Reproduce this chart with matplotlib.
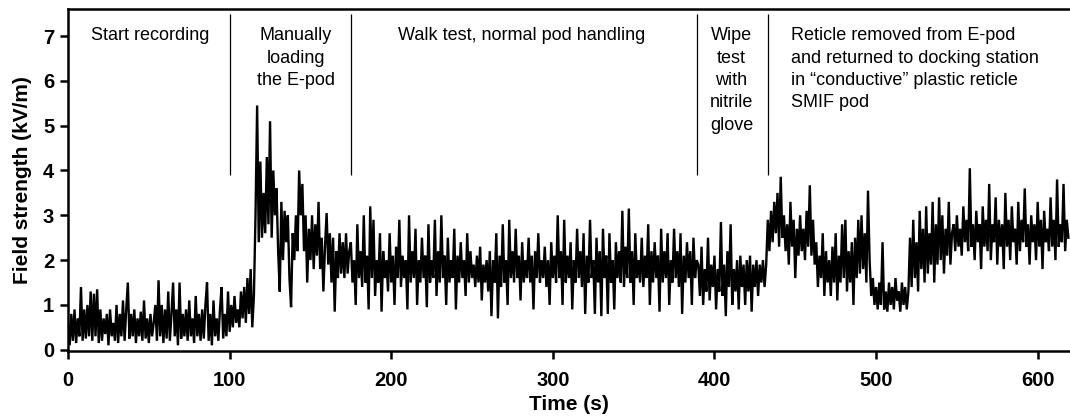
import numpy as np
import matplotlib.pyplot as plt

plt.rcParams['font.family'] = ['Liberation Sans', 'DejaVu Sans']

# Field strength readings (kV/m), one per second
start_t = 0
start_vals = [0.6, 0.1, 0.8, 0.2, 0.9, 0.15, 0.7, 0.3, 1.4, 0.2,
              0.9, 0.25, 1.0, 0.3, 1.3, 0.2, 1.25, 0.3, 1.35, 0.15,
              0.9, 0.2, 0.7, 0.35, 0.8, 0.1, 0.9, 0.3, 0.6, 0.2,
              1.0, 0.15, 0.8, 0.3, 1.1, 0.2, 0.9, 1.5, 0.25, 0.8,
              0.3, 0.9, 0.15, 0.7, 0.3, 0.85, 0.2, 1.1, 0.25, 0.7,
              0.15, 0.8, 0.3, 0.6, 1.0, 0.2, 1.55, 0.3, 1.0, 0.15,
              0.9, 0.25, 1.3, 0.2, 0.8, 1.5, 0.3, 0.9, 0.1, 1.5,
              0.25, 0.8, 0.3, 0.9, 0.2, 1.1, 0.3, 0.7, 0.15, 1.2,
              0.3, 0.8, 0.2, 0.9, 0.25, 1.0, 1.5, 0.2, 0.8, 0.1,
              1.1, 0.3, 0.7, 0.2, 0.9, 1.4, 0.25, 0.8, 0.3, 1.3,
              0.4, 1.0, 0.5, 1.2, 0.6, 0.9, 0.5, 1.3, 0.7, 1.4,
              0.6, 1.6, 0.8, 1.8, 0.5, 1.2]

load_t = 116
load_vals = [3.0, 5.45, 2.4, 4.2, 2.5, 3.5, 2.6, 4.3, 2.8, 5.1,
             2.5, 4.0, 3.0, 3.6, 2.2, 1.3, 3.3, 2.0, 3.1, 2.4,
             3.0, 1.6, 0.95, 2.6, 2.0, 3.0, 2.2, 4.0, 3.0, 3.7,
             2.2, 3.0, 1.5, 2.7, 2.0, 3.0, 1.8, 2.8, 2.1, 3.3,
             1.8, 2.5, 1.3, 2.3, 3.05, 1.9, 2.6, 1.5, 2.5, 0.85,
             2.2, 1.6, 2.6, 1.7, 2.4, 1.6, 2.6, 1.7, 2.2]

walk_t = 175
walk_vals = [2.4, 1.5, 2.0, 1.0, 2.8, 1.6, 2.2, 1.4, 3.0, 1.5,
             2.1, 0.9, 3.2, 1.6, 2.9, 1.2, 2.0, 1.5, 2.6, 0.85,
             2.2, 1.6, 2.0, 1.3, 2.6, 1.5, 2.1, 1.0, 2.3, 1.6,
             2.9, 1.4, 2.1, 1.6, 2.0, 0.9, 3.0, 1.5, 2.2, 1.6,
             2.7, 1.0, 2.0, 1.5, 2.5, 1.6, 2.1, 0.95, 2.8, 1.5,
             2.0, 1.6, 2.9, 1.2, 2.2, 1.5, 3.0, 1.6, 2.1, 1.0,
             2.5, 1.5, 2.0, 1.6, 2.7, 0.9, 2.1, 1.5, 2.4, 1.6,
             2.0, 1.2, 2.6, 1.5, 2.2, 1.6, 1.9, 1.4, 2.1, 1.5,
             2.3, 1.1, 1.9, 1.5, 2.0, 1.3, 2.2, 0.75, 2.0, 1.5,
             2.6, 0.7, 2.1, 1.4, 2.8, 1.5, 2.0, 1.0, 2.9, 1.6,
             2.2, 1.5, 2.7, 1.6, 2.1, 1.1, 2.4, 1.5, 2.0, 1.6,
             2.5, 1.5, 2.1, 0.9, 2.2, 1.6, 2.6, 1.5, 2.0, 1.6,
             2.3, 1.4, 2.0, 1.0, 2.4, 1.6, 2.1, 1.5, 3.0, 1.6,
             2.2, 1.0, 2.9, 1.5, 2.1, 1.6, 2.4, 0.9, 2.0, 1.5,
             2.7, 1.6, 2.2, 1.4, 2.6, 0.8, 2.1, 1.5, 2.9, 1.6,
             2.0, 0.8, 2.5, 1.5, 2.2, 0.75, 2.7, 1.6, 2.1, 0.8,
             2.6, 1.5, 2.0, 0.9, 2.4, 1.6, 2.2, 1.5, 3.1, 1.4,
             2.3, 1.6, 3.15, 1.5, 2.2, 1.0, 2.6, 1.6, 2.0, 1.5,
             2.5, 1.4, 2.1, 1.6, 2.8, 1.0, 2.2, 1.5, 2.4, 1.6,
             2.1, 0.85, 2.7, 1.5, 2.2, 1.6, 2.6, 1.0, 2.0, 1.5,
             2.7, 1.6, 2.2, 1.4, 2.6, 0.8, 2.1, 1.5, 2.4, 1.6,
             2.2, 1.0, 2.5, 1.6, 2.0]

wipe_t = 390
wipe_vals = [1.9, 1.2, 2.3, 1.0, 1.8, 1.3, 2.5, 1.1, 1.9, 1.4,
             2.1, 0.9, 1.8, 1.3, 2.85, 1.2, 1.9, 0.75, 2.2, 1.4,
             2.8, 1.0, 1.8, 1.3, 2.0, 0.9, 2.1, 1.4, 1.9, 1.0,
             2.0, 1.3, 2.1, 0.85, 1.9, 1.4, 2.0, 1.2, 1.9, 1.5,
             2.0, 1.4, 1.9]

removed_t = 433
removed_vals = [2.9, 2.2, 3.1, 2.4, 3.3, 2.6, 3.5, 2.3, 3.86, 2.5,
                3.0, 2.2, 2.8, 1.9, 3.3, 2.3, 2.9, 1.6, 2.7, 2.1,
                3.0, 2.2, 2.7, 2.0, 3.1, 2.3, 3.67, 2.1, 2.9, 1.9,
                2.4, 1.4, 2.1, 1.6, 2.6, 1.2, 2.2, 1.5, 2.0, 1.2,
                2.3, 1.5, 2.6, 1.1, 2.1, 1.5, 2.8, 1.6, 2.9, 1.3,
                2.2, 1.5, 2.4, 1.0, 2.5, 1.6, 2.9, 1.7, 3.0, 1.8,
                2.6, 1.5, 3.55, 2.0, 1.2,
                1.6, 1.0, 1.4, 0.9, 1.5, 1.0, 2.4, 0.9, 1.3, 0.85,
                1.5, 1.0, 1.4, 0.9, 1.6, 1.1, 1.3, 0.85, 1.5, 1.0,
                1.4, 0.9, 1.3,
                2.5, 1.4, 2.9, 1.6, 2.4, 1.3, 3.1, 1.8, 2.7, 1.5,
                3.2, 1.7, 2.6, 1.9, 3.3, 1.5, 2.8, 1.9, 3.4, 2.0,
                3.0, 1.7, 2.7, 2.1, 3.3, 1.9, 2.6,
                2.8, 2.2, 3.0, 2.3, 2.7, 2.1, 3.2, 2.4, 2.9, 2.2,
                4.05, 2.3, 2.8, 2.0, 3.1, 2.4, 2.8, 1.8, 3.2, 2.3,
                2.9, 2.2, 3.7, 2.0, 2.8, 2.4, 3.4, 1.9, 2.9, 2.3,
                2.8, 1.8, 3.5, 2.3, 2.9, 2.0, 3.2, 2.4, 2.7, 1.9,
                3.3, 2.2, 2.9, 2.4, 3.6, 2.3, 2.8, 1.9, 3.0, 2.4,
                2.8, 2.0, 3.3, 2.3, 2.9, 1.8, 3.1, 2.4, 2.7, 2.2,
                3.4, 2.3, 2.9, 2.0, 3.8, 2.3, 2.8, 2.4, 3.7, 2.2,
                2.9, 2.5]

# phase boundaries (s) and labels
phase_lines = [100, 175, 389, 433]
labels = ["Start recording", "Manually\nloading\nthe E-pod",
          "Walk test, normal pod handling", "Wipe\ntest\nwith\nnitrile\nglove",
          "Reticle removed from E-pod\nand returned to docking station\n"
          "in \u201cconductive\u201d plastic reticle\nSMIF pod"]
label_x = [51, 141, 280.5, 410.5, 447.5]
label_ha = ['center', 'center', 'center', 'center', 'left']

segments = [(start_t, start_vals), (load_t, load_vals), (walk_t, walk_vals),
            (wipe_t, wipe_vals), (removed_t, removed_vals)]
t = np.concatenate([np.arange(s, s + len(v)) for s, v in segments])
y = np.concatenate([np.array(v, dtype=float) for s, v in segments])

fig = plt.figure(figsize=(10.7, 4.16), dpi=100)
ax = fig.add_axes([0.0636, 0.156, 0.9364, 0.822])

ax.plot(t, y, color='black', lw=1.7, solid_joinstyle='miter')
ax.vlines(phase_lines, 3.9, 7.5, color='black', lw=0.9)

for txt, xx, ha in zip(labels, label_x, label_ha):
    ax.text(xx, 7.2, txt, ha=ha, va='top', fontsize=13, linespacing=1.42)

ax.set_xlim(0, 620)
ax.set_ylim(-0.03, 7.6)
ax.set_xticks([0, 100, 200, 300, 400, 500, 600])
ax.set_yticks(range(8))
ax.set_xlabel('Time (s)', fontsize=15, fontweight='bold', labelpad=4)
ax.set_ylabel('Field strength (kV/m)', fontsize=15, fontweight='bold', labelpad=8)
for lab in ax.get_xticklabels() + ax.get_yticklabels():
    lab.set_fontweight('bold')
ax.tick_params(axis='both', direction='out', length=6, width=1.8, labelsize=14.5)
ax.tick_params(axis='x', pad=8)
ax.tick_params(axis='y', pad=4)
for side in ['left', 'bottom', 'top']:
    ax.spines[side].set_linewidth(1.8)
ax.spines['right'].set_visible(False)

fig.savefig('out.png', dpi=100)
